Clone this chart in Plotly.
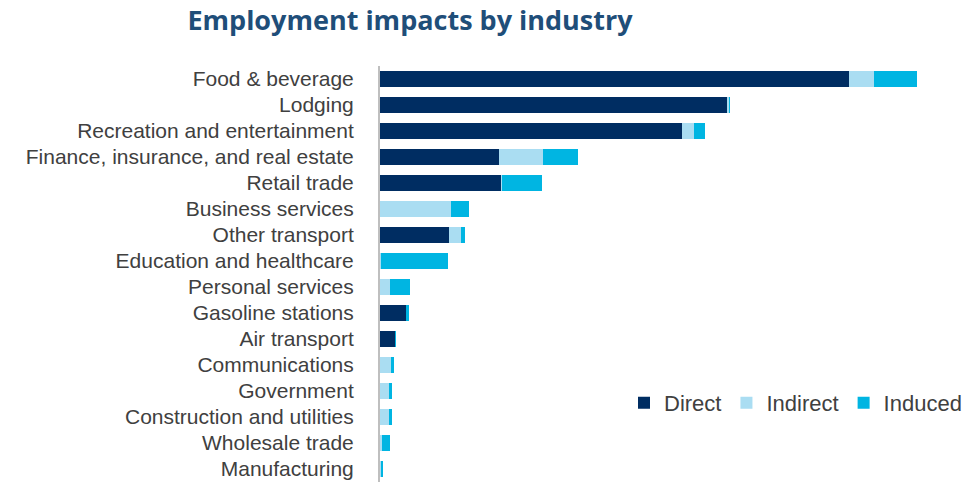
import plotly.graph_objects as go

# Industries, top to bottom
industries = [
    "Food & beverage", "Lodging", "Recreation and entertainment",
    "Finance, insurance, and real estate", "Retail trade", "Business services",
    "Other transport", "Education and healthcare", "Personal services",
    "Gasoline stations", "Air transport", "Communications", "Government",
    "Construction and utilities", "Wholesale trade", "Manufacturing",
]

# Jobs supported by each industry (thousands)
direct = [469, 347, 302, 118.5, 121, 0, 69, 0, 0, 26, 15, 0, 0, 0, 0, 0]
indirect = [25, 2.5, 11.5, 44.5, 0.5, 70.5, 12, 0.5, 9.5, 0, 0, 10.5, 8.5, 8.5, 2, 1]
induced = [43, 0.5, 11.5, 35, 40, 18, 3.5, 67, 20.5, 2.5, 1, 3.5, 3.3, 3.3, 8, 2]

series = [
    ("Direct", direct, "#002D62"),
    ("Indirect", indirect, "#AADDF2"),
    ("Induced", induced, "#00B5E2"),
]

fig = go.Figure()
for name, vals, color in series:
    fig.add_trace(go.Bar(
        y=industries, x=vals, name=name, orientation="h",
        marker=dict(color=color, line=dict(width=0)),
    ))

fig.update_layout(
    barmode="stack",
    bargap=0.42,
    width=967, height=482,
    margin=dict(l=380, r=37, t=66, b=0, autoexpand=False),
    paper_bgcolor="white", plot_bgcolor="white",
    font=dict(family="Liberation Sans, Arial, sans-serif", color="#404040"),
    title=dict(
        text="<b>Employment impacts by industry</b>",
        font=dict(family="Open Sans, sans-serif", size=27, color="#1F4E79"),
        x=0.424, xanchor="center", xref="container",
        y=0.958, yanchor="middle", yref="container",
    ),
    showlegend=True,
    legend=dict(
        orientation="h",
        xref="container", yref="container",
        x=1.0, xanchor="right", y=0.164, yanchor="middle",
        font=dict(size=22, color="#404040"),
        traceorder="normal",
        itemwidth=30,
        bgcolor="rgba(0,0,0,0)",
    ),
)

fig.update_xaxes(range=[0, 550], visible=False, fixedrange=True)
fig.update_yaxes(
    categoryorder="array", categoryarray=industries, autorange="reversed",
    tickmode="linear", dtick=1,
    showline=True, linecolor="#BFBFBF", linewidth=2,
    showgrid=False, ticks="", ticklabelstandoff=20,
    tickfont=dict(size=21, color="#404040"),
)

fig.write_html("out.html")
